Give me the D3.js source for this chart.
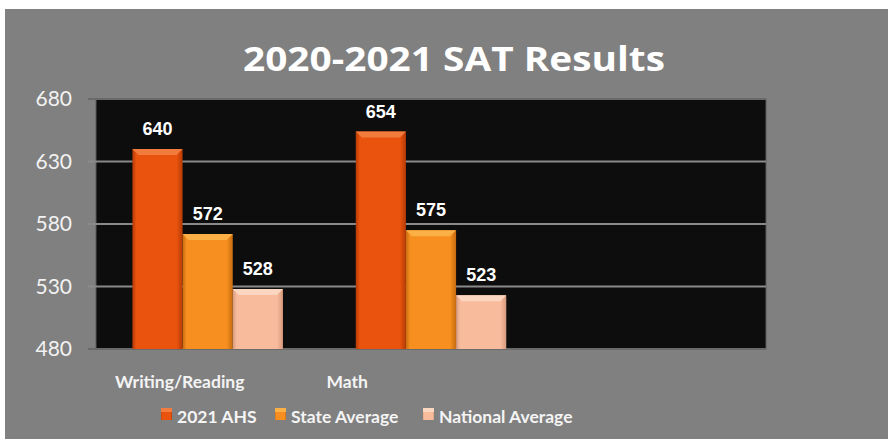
<!DOCTYPE html>
<html>
<head>
<meta charset="utf-8">
<script src="https://cdn.jsdelivr.net/npm/d3@7"></script>
<style>
  body { margin: 0; background: #fff; }
  svg { display: block; }
</style>
</head>
<body>
<svg id="chart" width="888" height="439"></svg>
<script>
// chart data
var categories = ['Writing/Reading', 'Math', ''];
var axis_labels = ['Writing/Reading', 'Math', '', ''];
var series_names = ['2021 AHS', 'State Average', 'National Average'];
var ahs_values = [640, 654, null];
var state_values = [572, 575, null];
var national_values = [528, 523, null];
var y_ticks = [480, 530, 580, 630, 680];

var series_values = [ahs_values, state_values, national_values];
var fills = ['#ea530e', '#f68f1f', '#f8bb9c'];
var tops = ['#f27b3e', '#fbb045', '#fbd6c0'];
var edges = ['#b53b05', '#c66c10', '#d89a7e'];

var svg_elem = d3.select('#chart');
var width = +svg_elem.attr('width'), height = +svg_elem.attr('height');

// gray card
svg_elem.append('rect').attr('x', 5).attr('y', 9).attr('width', width - 5).attr('height', height - 9).attr('fill', '#808080');

var plot = {left: 96, right: 766, top: 99, bottom: 349};

var x_scale = d3.scaleBand().domain(categories).range([plot.left, plot.right]);
var bw = x_scale.bandwidth();
var x_inner = d3.scaleBand().domain(series_names).range([bw * 0.163, bw * 0.837]);
var label_scale = d3.scaleBand().domain(d3.range(axis_labels.length)).range([plot.left, plot.right]);
var y_scale = d3.scaleLinear().domain([480, 680]).range([plot.bottom, plot.top]);

var defs = svg_elem.append('defs');
fills.forEach(function(c, i)  {
	var g = defs.append('linearGradient').attr('id', 'bar' + i).attr('x1', 0).attr('x2', 1).attr('y1', 0).attr('y2', 0);
	g.append('stop').attr('offset', '0%').attr('stop-color', edges[i]);
	g.append('stop').attr('offset', '8%').attr('stop-color', c);
	g.append('stop').attr('offset', '88%').attr('stop-color', c);
	g.append('stop').attr('offset', '100%').attr('stop-color', edges[i]);
});

// plot background
svg_elem.append('rect').attr('x', plot.left).attr('y', plot.top)
	.attr('width', plot.right - plot.left).attr('height', plot.bottom - plot.top)
	.attr('fill', '#0d0d0d').attr('stroke', '#5a5a5a').attr('stroke-width', 1);

// gridlines + tick marks
svg_elem.selectAll('.grid').data(y_ticks).enter().append('line').attr('class', 'grid')
	.attr('x1', plot.left - 8).attr('x2', plot.right)
	.attr('y1', d => y_scale(d)).attr('y2', d => y_scale(d))
	.attr('stroke', d => (d == 480 || d == 680) ? '#6a6a6a' : '#8a8a8a').attr('stroke-width', 2);

svg_elem.selectAll('.ytick').data(y_ticks).enter().append('text').attr('class', 'ytick')
	.attr('x', 72).attr('y', d => y_scale(d)).attr('dy', '0.35em')
	.attr('text-anchor', 'end').attr('fill', '#f2f2f2')
	.style('font-family', 'Lato, sans-serif').style('font-size', '21px')
	.text(d => d);

// bars
var bar_data = [];
categories.forEach(function(c, ci)  {
	series_names.forEach(function(s, si)  {
		var v = series_values[si][ci];
		if(v != null)
			bar_data.push({cat: c, series: s, si: si, value: v});
	});
});

var bars = svg_elem.selectAll('.bar').data(bar_data).enter().append('g').attr('class', 'bar')
	.attr('transform', d => 'translate(' + (x_scale(d.cat) + x_inner(d.series)) + ',0)');

bars.append('rect')
	.attr('x', 0).attr('y', d => y_scale(d.value))
	.attr('width', x_inner.bandwidth()).attr('height', d => plot.bottom - y_scale(d.value))
	.attr('fill', d => 'url(#bar' + d.si + ')');

// top bevel
bars.append('path')
	.attr('d', function(d)  {
		var y0 = y_scale(d.value), w = x_inner.bandwidth(), b = 6;
		return 'M0,' + y0 + 'L' + w + ',' + y0 + 'L' + (w - b) + ',' + (y0 + b) + 'L' + b + ',' + (y0 + b) + 'Z';
	})
	.attr('fill', d => tops[d.si]);

bars.append('text')
	.attr('x', x_inner.bandwidth() / 2).attr('y', d => y_scale(d.value) - 14)
	.attr('text-anchor', 'middle').attr('fill', '#fff')
	.style('font-family', '"Liberation Sans", Arial, sans-serif').style('font-weight', 'bold').style('font-size', '18px')
	.text(d => d.value);

// category labels
svg_elem.selectAll('.xlab').data(axis_labels).enter().append('text').attr('class', 'xlab')
	.attr('x', (d, i) => label_scale(i) + label_scale.bandwidth() / 2).attr('y', 388)
	.attr('text-anchor', 'middle').attr('fill', '#f4f4f4')
	.style('font-family', 'Lato, sans-serif').style('font-weight', 'bold').style('font-size', '17.5px')
	.text(d => d);

// title
svg_elem.append('text').attr('x', 454).attr('y', 71).attr('text-anchor', 'middle')
	.attr('fill', '#ffffff').style('font-family', '"Open Sans", sans-serif').style('font-weight', 'bold').style('font-size', '34px')
	.attr('textLength', 422).attr('lengthAdjust', 'spacingAndGlyphs')
	.text('2020-2021 SAT Results');

// legend
var legend_x = [161, 275, 423];
var legend = svg_elem.selectAll('.legend').data(series_names).enter().append('g').attr('class', 'legend')
	.attr('transform', (d, i) => 'translate(' + legend_x[i] + ',408)');
legend.append('rect').attr('width', 11).attr('height', 12).attr('fill', (d, i) => 'url(#bar' + i + ')');
legend.append('rect').attr('width', 11).attr('height', 4).attr('fill', (d, i) => tops[i]);
legend.append('text').attr('x', 16).attr('y', 15).attr('fill', '#f4f4f4')
	.style('font-family', 'Lato, sans-serif').style('font-weight', 'bold').style('font-size', '17.5px')
	.text(d => d);
</script>
</body>
</html>
